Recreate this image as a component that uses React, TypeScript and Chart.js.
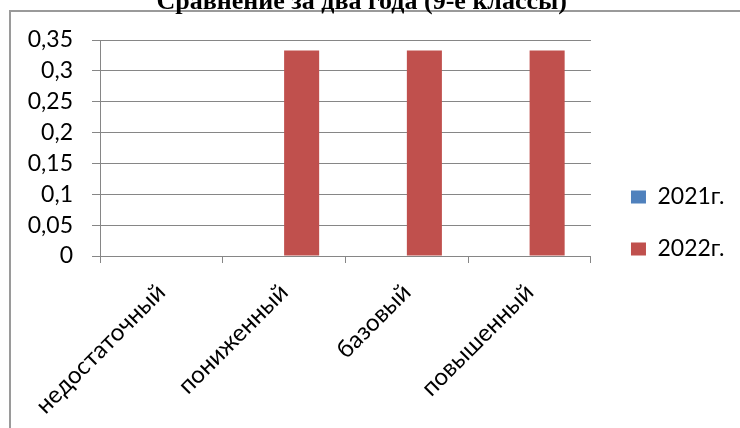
import React, { useEffect, useRef } from 'react';
import { Chart, registerables } from 'chart.js';

Chart.register(...registerables);

const TITLE = 'Сравнение за два года (9-е классы)';
const categories = ['недостаточный', 'пониженный', 'базовый', 'повышенный'];
const seriesNames = ['2021г.', '2022г.'];
const values2021 = [0, 0, 0, 0];
const values2022 = [0, 0.333, 0.333, 0.333];
const Y_MIN = 0;
const Y_MAX = 0.35;
const Y_STEP = 0.05;

const COLORS = ['#4F81BD', '#C0504D'];
const GRID = '#868686';
const FONT = 'Lato';

const framePlugin = {
  id: 'frame',
  beforeDraw(chart: any) {
    const { ctx, width, height } = chart;
    ctx.save();
    ctx.fillStyle = '#ffffff';
    ctx.fillRect(0, 0, width, height);
    ctx.strokeStyle = '#9a9a9a';
    ctx.lineWidth = 2;
    ctx.strokeRect(10, 11, width + 20, height + 20);
    ctx.restore();
  },
  afterLayout(chart: any) {
    const l = chart.legend;
    if (l) {
      l.left += 11;
      l.right += 11;
    }
  },
};

export default function App() {
  const ref = useRef<HTMLCanvasElement>(null);
  useEffect(() => {
    const chart = new Chart(ref.current as HTMLCanvasElement, {
      type: 'bar',
      data: {
        labels: categories,
        datasets: [
          { label: seriesNames[0], data: values2021, backgroundColor: COLORS[0], borderWidth: 0 },
          { label: seriesNames[1], data: values2022, backgroundColor: COLORS[1], borderWidth: 0 },
        ],
      },
      options: {
        responsive: false,
        animation: false,
        devicePixelRatio: 1,
        layout: { padding: { top: 18, right: 16.5, bottom: 0, left: 0 } },
        datasets: { bar: { categoryPercentage: 0.571, barPercentage: 1 } },
        plugins: {
          title: {
            display: true,
            text: TITLE,
            color: '#000',
            font: { family: 'Liberation Serif', size: 26, weight: 'bold', lineHeight: 1.2 },
            padding: { top: -31.6, bottom: 22.4 },
          },
          legend: {
            display: true,
            position: 'right',
            labels: {
              boxWidth: 15,
              boxHeight: 13,
              padding: 29,
              color: '#000',
              font: { family: FONT, size: 23 },
            },
          },
          tooltip: { enabled: false },
        },
        scales: {
          x: {
            grid: { offset: true, drawOnChartArea: false, tickLength: 7, color: GRID, lineWidth: 1 },
            border: { display: true, color: GRID, width: 1 },
            ticks: {
              autoSkip: false,
              minRotation: 45,
              maxRotation: 45,
              color: '#000',
              font: { family: FONT, size: 24 },
              padding: 15,
            },
            afterFit(scale: any) {
              scale.height = 172;
            },
          },
          y: {
            min: Y_MIN,
            max: Y_MAX,
            grid: { tickLength: 8, color: GRID, lineWidth: 1 },
            border: { display: true, color: GRID, width: 1 },
            ticks: {
              stepSize: Y_STEP,
              color: '#000',
              font: { family: FONT, size: 23 },
              padding: 19,
              callback: (v: any) => String(Number(Number(v).toFixed(2))).replace('.', ','),
            },
            afterFit(scale: any) {
              scale.width = 100;
            },
          },
        },
      },
      plugins: [framePlugin],
    } as any);
    return () => chart.destroy();
  }, []);
  return (
    <div style={{ position: 'absolute', left: 0, top: 0, width: 740, height: 428 }}>
      <canvas ref={ref} width={740} height={428} style={{ display: 'block' }} />
    </div>
  );
}
